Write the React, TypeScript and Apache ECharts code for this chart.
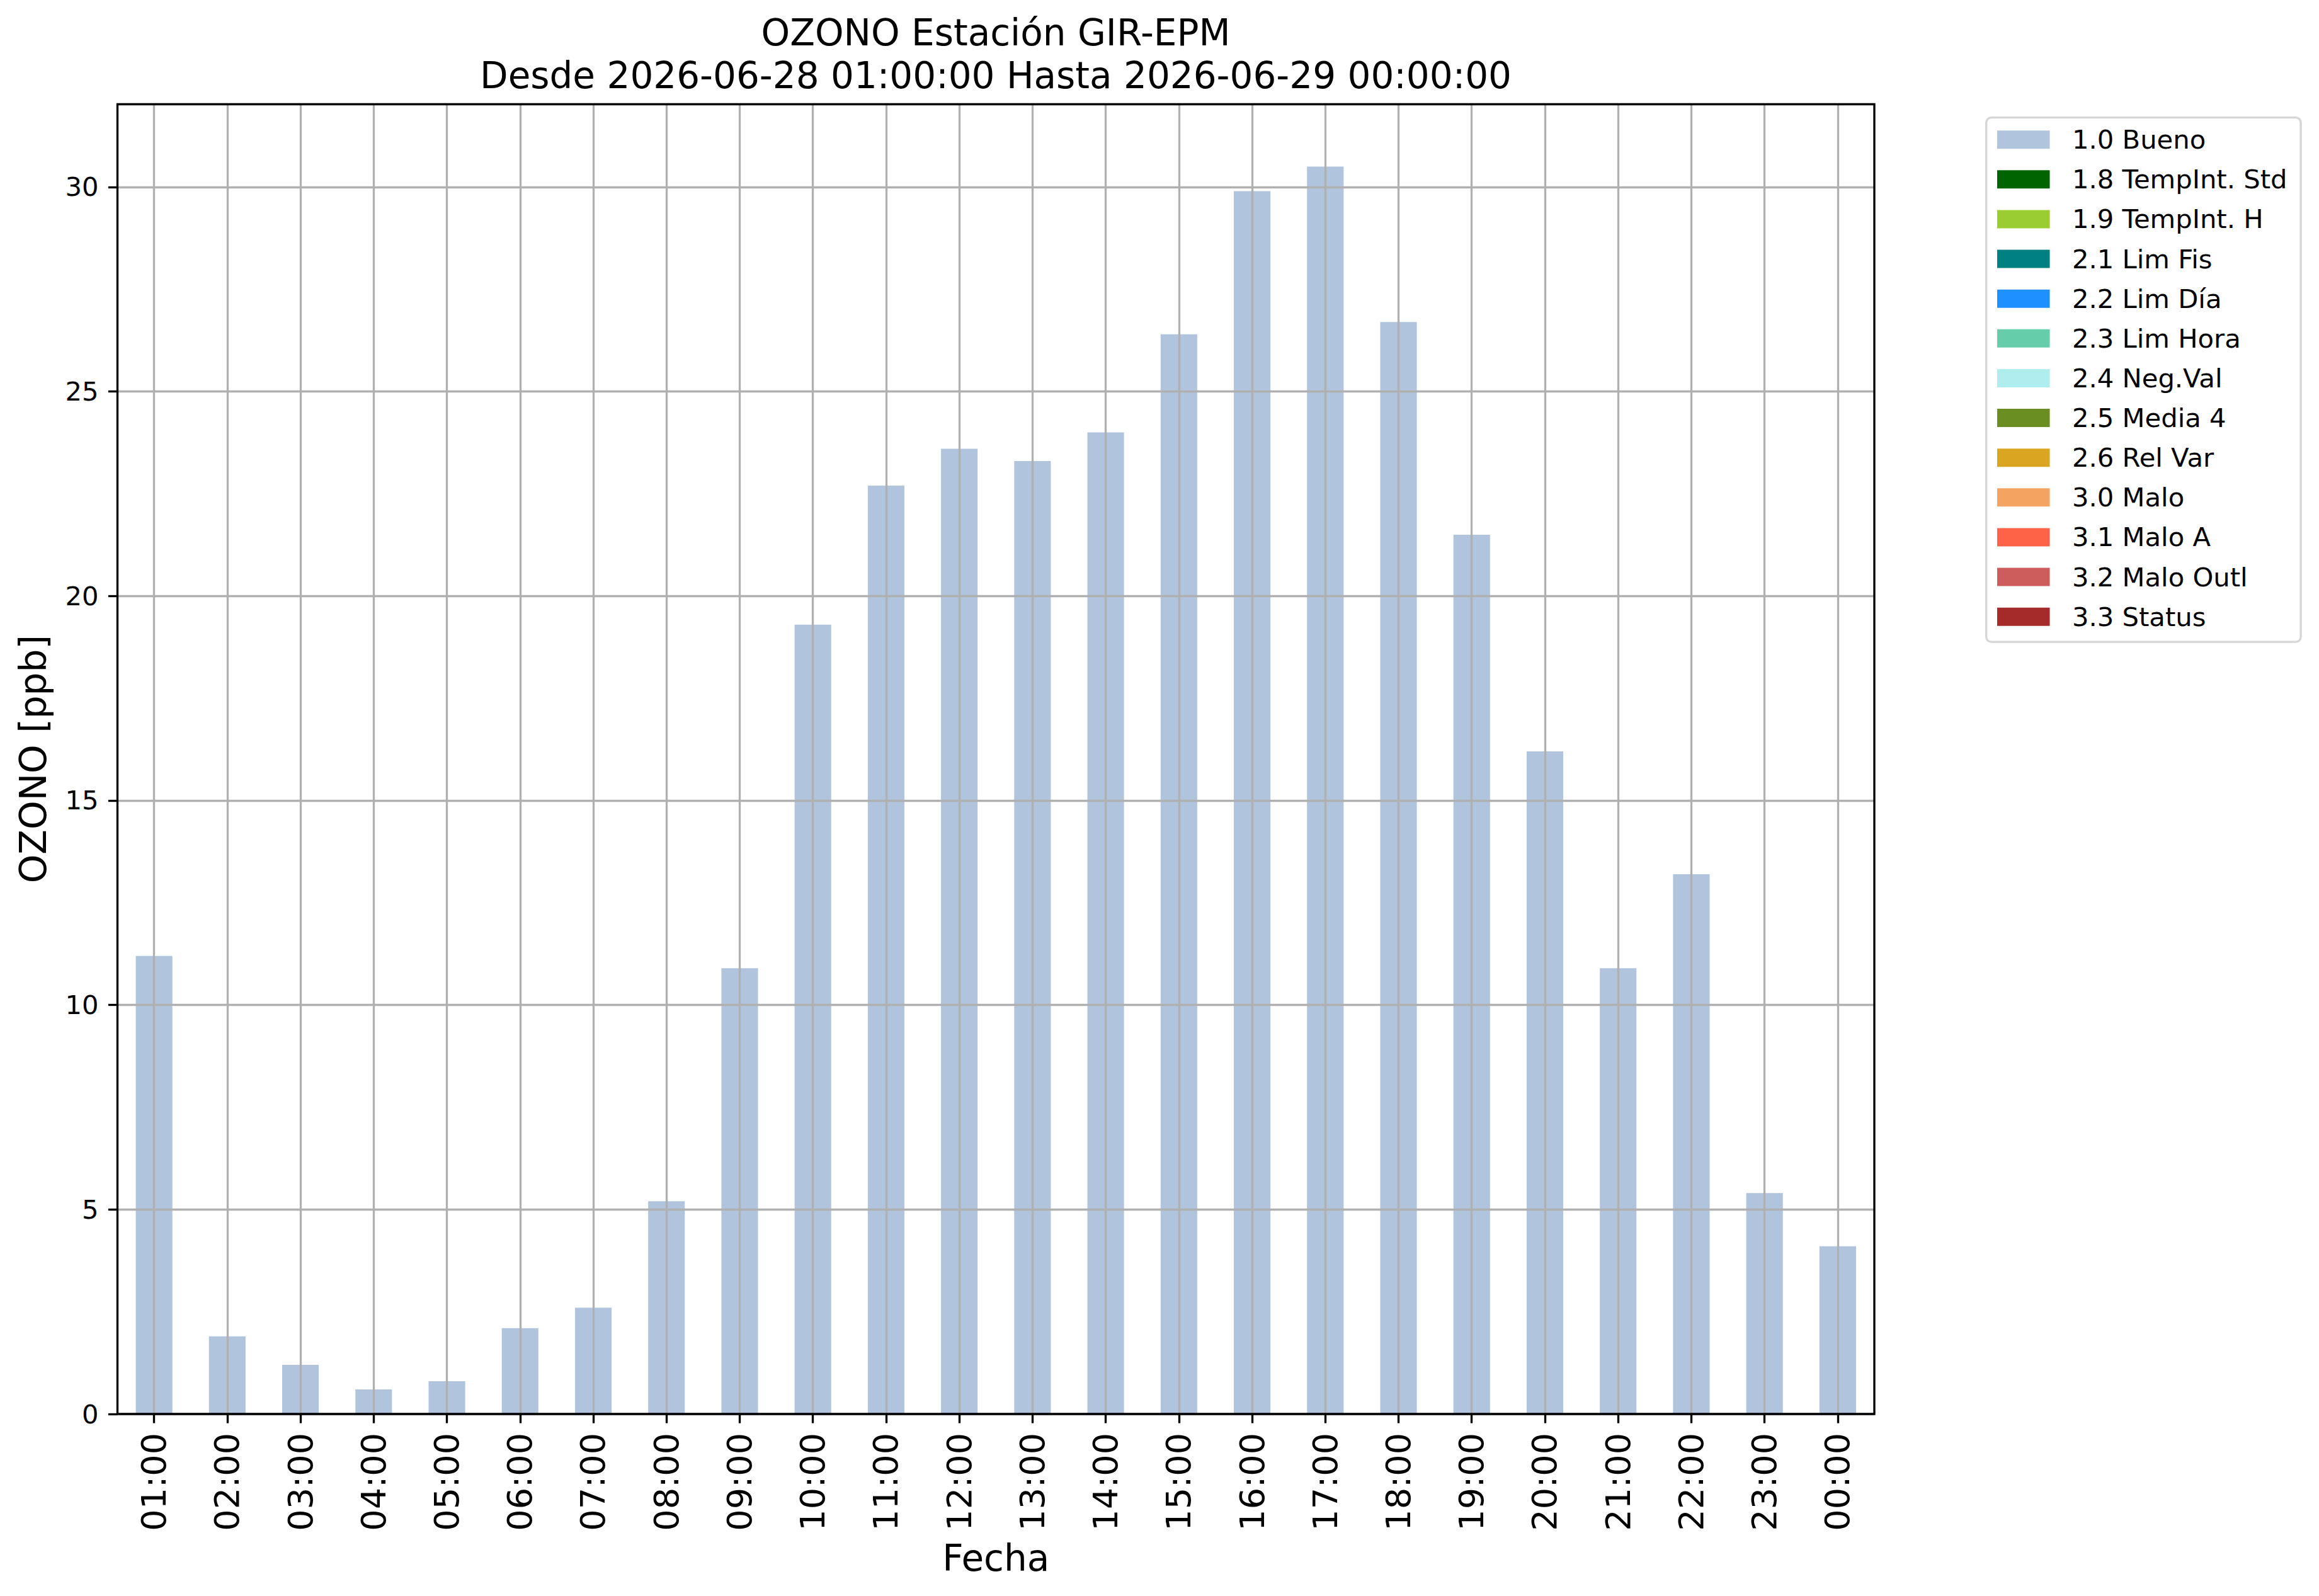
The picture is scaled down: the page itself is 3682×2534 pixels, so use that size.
import React, { useEffect, useRef } from "react";
import * as echarts from "echarts";

const hours = [
  "01:00", "02:00", "03:00", "04:00", "05:00", "06:00", "07:00", "08:00",
  "09:00", "10:00", "11:00", "12:00", "13:00", "14:00", "15:00", "16:00",
  "17:00", "18:00", "19:00", "20:00", "21:00", "22:00", "23:00", "00:00",
];

const ozoneValues = [
  11.2, 1.9, 1.2, 0.6, 0.8, 2.1, 2.6, 5.2, 10.9, 19.3, 22.7, 23.6,
  23.3, 24.0, 26.4, 29.9, 30.5, 26.7, 21.5, 16.2, 10.9, 13.2, 5.4, 4.1,
];

const flagNames = [
  "1.0 Bueno", "1.8 TempInt. Std", "1.9 TempInt. H", "2.1 Lim Fis",
  "2.2 Lim Día", "2.3 Lim Hora", "2.4 Neg.Val", "2.5 Media 4",
  "2.6 Rel Var", "3.0 Malo", "3.1 Malo A", "3.2 Malo Outl", "3.3 Status",
];

const flagColors = [
  "#b0c4de", "#006400", "#9acd32", "#008080", "#1e90ff", "#66cdaa",
  "#afeeee", "#6b8e23", "#daa520", "#f4a460", "#ff6347", "#cd5c5c", "#a52a2a",
];

const yTicks = [0, 5, 10, 15, 20, 25, 30];
const yMax = 32.025;

const titleText =
  "OZONO Estación GIR-EPM\nDesde 2026-06-28 01:00:00 Hasta 2026-06-29 00:00:00";

const FONT = "DejaVu Sans";

export default function App() {
  const ref = useRef<HTMLDivElement>(null);

  useEffect(() => {
    document.body.style.margin = "0";
    if (!ref.current) return;
    const chart = echarts.init(ref.current, undefined, { renderer: "svg" });

    const series = flagNames.map((name, i) => ({
      type: "bar",
      name,
      stack: "flags",
      barWidth: "50%",
      itemStyle: { color: flagColors[i] },
      data: i === 0 ? ozoneValues : [],
    }));

    chart.setOption({
      animation: false,
      backgroundColor: "#ffffff",
      title: {
        text: titleText,
        left: 1581,
        top: 18,
        textAlign: "center",
        padding: 0,
        textStyle: {
          fontFamily: FONT,
          fontSize: 58,
          fontWeight: "normal",
          color: "#000000",
          lineHeight: 68,
        },
      },
      grid: {
        left: 186.5,
        top: 165.5,
        width: 2789.5,
        height: 2079.5,
        show: true,
        backgroundColor: "transparent",
        borderColor: "#000000",
        borderWidth: 3.33,
        z: 10,
        containLabel: false,
      },
      legend: {
        orient: "vertical",
        left: 3153.7,
        top: 186.7,
        icon: "rect",
        itemWidth: 83.5,
        itemHeight: 29,
        itemGap: 21.13,
        padding: [13.95, 21.6, 18.95, 17.3],
        backgroundColor: "rgba(255,255,255,0.8)",
        borderColor: "#d6d6d6",
        borderWidth: 3.33,
        borderRadius: 8,
        selectedMode: false,
        data: flagNames,
        textStyle: {
          fontFamily: FONT,
          fontSize: 41.7,
          color: "#000000",
          lineHeight: 41.7,
          padding: [0, 0, 0, 30.5],
        },
      },
      xAxis: {
        type: "category",
        data: hours,
        boundaryGap: true,
        z: 3,
        axisLine: { show: false },
        axisTick: {
          show: true,
          alignWithLabel: true,
          interval: 0,
          length: 14.6,
          lineStyle: { color: "#000000", width: 3.33 },
        },
        axisLabel: {
          interval: 0,
          rotate: 90,
          fontFamily: FONT,
          fontSize: 54,
          color: "#000000",
          margin: 30,
        },
        splitLine: {
          show: true,
          alignWithLabel: true,
          interval: 0,
          lineStyle: { color: "#b0b0b0", width: 3.33 },
        },
        name: "Fecha",
        nameLocation: "middle",
        nameGap: 200,
        nameMoveOverlap: false,
        nameTextStyle: { fontFamily: FONT, fontSize: 58, color: "#000000" },
      },
      yAxis: {
        type: "value",
        min: 0,
        max: yMax,
        interval: 5,
        z: 3,
        axisLine: { show: false },
        axisTick: {
          show: true,
          length: 14.6,
          customValues: yTicks,
          lineStyle: { color: "#000000", width: 3.33 },
        },
        axisLabel: {
          fontFamily: FONT,
          fontSize: 41.7,
          color: "#000000",
          margin: 30,
          customValues: yTicks,
          formatter: (v: number) => (yTicks.indexOf(v) >= 0 ? String(v) : ""),
        },
        splitLine: {
          show: true,
          lineStyle: { color: "#b0b0b0", width: 3.33 },
        },
        name: "OZONO [ppb]",
        nameLocation: "middle",
        nameRotate: 90,
        nameGap: 105,
        nameMoveOverlap: false,
        nameTextStyle: { fontFamily: FONT, fontSize: 58, color: "#000000" },
      },
      series,
    });

    return () => {
      chart.dispose();
    };
  }, []);

  return (
    <div
      ref={ref}
      style={{ position: "absolute", left: 0, top: 0, width: 3682, height: 2534 }}
    />
  );
}
